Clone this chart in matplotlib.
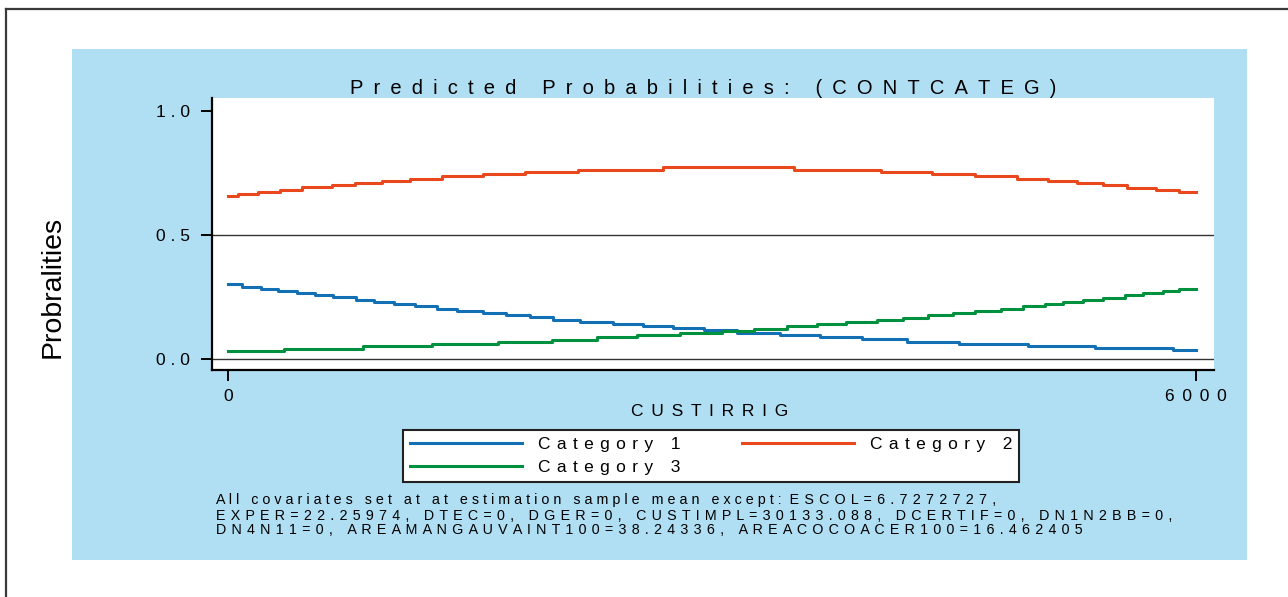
import matplotlib
matplotlib.use("Agg")
import matplotlib.pyplot as plt
from matplotlib.patches import Rectangle
from matplotlib.lines import Line2D

plt.rcParams['font.family'] = ['Liberation Sans', 'DejaVu Sans']

# ---------------- data ----------------
x_min, x_max = 0, 6000

# Category 1: x positions where the predicted probability steps down, and the levels
cat1_steps = [85, 203, 312, 426, 539, 649, 793, 905, 1029, 1159, 1297, 1421, 1583,
              1723, 1872, 2016, 2182, 2388, 2570, 2760, 2950, 3153, 3421, 3669,
              3929, 4207, 4533, 4960, 5374, 5859]
cat1_levels = [0.301, 0.292, 0.283, 0.274, 0.266, 0.257, 0.248, 0.239, 0.230, 0.221,
               0.212, 0.203, 0.195, 0.186, 0.177, 0.168, 0.159, 0.150, 0.141, 0.132,
               0.124, 0.115, 0.106, 0.097, 0.088, 0.079, 0.070, 0.061, 0.052, 0.044,
               0.035]

# Category 2
cat2_steps = [64, 188, 322, 457, 643, 787, 953, 1128, 1325, 1582, 1841, 2171, 2698,
              3508, 4045, 4362, 4630, 4892, 5084, 5264, 5425, 5570, 5752, 5896]
cat2_levels = [0.656, 0.665, 0.674, 0.683, 0.692, 0.700, 0.709, 0.718, 0.727, 0.736,
               0.745, 0.754, 0.763, 0.772, 0.763, 0.754, 0.745, 0.736, 0.727, 0.718,
               0.709, 0.700, 0.691, 0.682, 0.673]

# Category 3
cat3_steps = [347, 839, 1262, 1675, 2006, 2285, 2537, 2801, 3060, 3260, 3467, 3649,
              3830, 4021, 4186, 4340, 4492, 4630, 4789, 4929, 5064, 5177, 5297, 5421,
              5560, 5673, 5793, 5896]
cat3_levels = [0.033, 0.042, 0.051, 0.060, 0.069, 0.078, 0.087, 0.096, 0.104, 0.113,
               0.122, 0.131, 0.140, 0.149, 0.158, 0.167, 0.176, 0.185, 0.194, 0.203,
               0.212, 0.220, 0.229, 0.238, 0.247, 0.256, 0.265, 0.274, 0.283]

series_names = ["Category 1", "Category 2", "Category 3"]
series_colors = ["#1470b4", "#e8481c", "#00913f"]

y_ticks = [0.0, 0.5, 1.0]
y_tick_labels = ["0.0", "0.5", "1.0"]
x_ticks = [0, 6000]
x_tick_labels = ["0", "6000"]

title = "Predicted Probabilities: (CONTCATEG)"
x_label = "CUSTIRRIG"
y_label = "Probralities"
note_lines = [
    ("All covariates set at at estimation sample mean except: ", "ESCOL=6.7272727,"),
    ("", "EXPER=22.25974, DTEC=0, DGER=0, CUSTIMPL=30133.088, DCERTIF=0, DN1N2BB=0,"),
    ("", "DN4N11=0, AREAMANGAUVAINT100=38.24336, AREACOCOACER100=16.462405"),
]

# ---------------- layout helpers ----------------
W, H, DPI = 1288, 597, 100

EN_SPACE = "\u2002"
SIX_PER_EM = "\u2006"
HAIR = "\u200a"


def fx(px):
    return px / W


def fy(py):
    return 1 - py / H


def spaced(text, sep=" "):
    """Letter-spaced rendering of a label."""
    return sep.join(text)


fig = plt.figure(figsize=(W / DPI, H / DPI), dpi=DPI)
fig.patch.set_facecolor("white")

# outer frame edges
fig.add_artist(Line2D([fx(6), fx(6)], [fy(9), fy(600)], color="#3a3a3a", lw=1.6,
                      transform=fig.transFigure))
fig.add_artist(Line2D([fx(6), fx(1290)], [fy(9), fy(9)], color="#3a3a3a", lw=1.6,
                      transform=fig.transFigure))

# graph region background
fig.add_artist(Rectangle((fx(72), fy(560)), fx(1247) - fx(72), fy(49) - fy(560),
                         transform=fig.transFigure, facecolor="#b0def3",
                         edgecolor="none", zorder=-1))

ax = fig.add_axes([fx(212), fy(370), fx(1214) - fx(212), fy(98) - fy(370)])
ax.set_facecolor("white")

# x-range in data units for the plot region
px0, px6000 = 228, 1196
scale = (x_max - x_min) / (px6000 - px0)
ax.set_xlim(x_min + (212 - px0) * scale, x_min + (1214 - px0) * scale)
ax.set_ylim(-0.0444, 1.052)

ax.axhline(0.0, color="#333333", lw=1.0, zorder=1)
ax.axhline(0.5, color="#333333", lw=1.0, zorder=1)

handles = []
for steps, levels, name, color in zip([cat1_steps, cat2_steps, cat3_steps],
                                      [cat1_levels, cat2_levels, cat3_levels],
                                      series_names, series_colors):
    xs = [x_min] + steps + [x_max]
    ys = levels + [levels[-1]]
    h, = ax.plot(xs, ys, drawstyle="steps-post", color=color, lw=2.2, zorder=3)
    handles.append(h)

for side in ("top", "right"):
    ax.spines[side].set_visible(False)
for side in ("left", "bottom"):
    ax.spines[side].set_linewidth(1.6)
    ax.spines[side].set_color("black")

ax.set_yticks(y_ticks)
ax.set_yticklabels([spaced(t) for t in y_tick_labels])
ax.set_xticks(x_ticks)
ax.set_xticklabels([spaced(t, " " + SIX_PER_EM) for t in x_tick_labels])
ax.tick_params(axis="both", direction="out", length=8, width=1.4, labelsize=12.5,
               colors="black")
ax.tick_params(axis="y", pad=8)
ax.tick_params(axis="x", pad=6)

# titles
fig.text(fx(703), fy(89), spaced(title, EN_SPACE), ha="center", va="center",
         fontsize=14.5, color="black")
fig.text(fx(710), fy(411), spaced(x_label, " " + SIX_PER_EM), ha="center",
         va="center", fontsize=12.5, color="black")
fig.text(fx(53), fy(287), y_label, ha="center", va="center", rotation=90,
         fontsize=20.5, color="black")

# legend: two columns, Category 1 and 2 on the first row
order = [0, 2, 1]
leg = fig.legend([handles[i] for i in order],
                 [spaced(series_names[i], " " + HAIR) for i in order],
                 ncol=2, loc="upper left", bbox_to_anchor=(fx(403), fy(430)),
                 bbox_transform=fig.transFigure, frameon=True, fancybox=False,
                 edgecolor="#222222", facecolor="white", framealpha=1,
                 fontsize=12.5, handlelength=6.45, handletextpad=0.92,
                 borderpad=0.4, borderaxespad=0, columnspacing=3.55,
                 labelspacing=0.45)
leg.get_frame().set_linewidth(1.5)

# footnote
note_y = [500, 516.5, 529.5]
for (plain, tracked), y in zip(note_lines, note_y):
    fig.text(fx(216), fy(y), spaced(plain, " ") + spaced(tracked, " " + HAIR),
             ha="left", va="center", fontsize=10.3, color="black")

fig.savefig("out.png", dpi=DPI, facecolor=fig.get_facecolor())
